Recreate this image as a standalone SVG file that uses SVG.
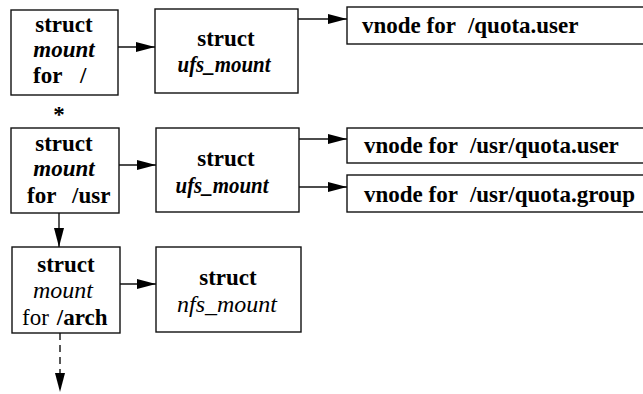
<svg xmlns="http://www.w3.org/2000/svg" width="643" height="394" viewBox="0 0 643 394" font-family="Liberation Serif, Times New Roman, serif">
<style>
rect{fill:#fff;stroke:#111;stroke-width:1.4}
text{font-family:"Liberation Serif",serif;font-size:23px;fill:#000}
.b{font-weight:bold}
.bi{font-weight:bold;font-style:italic}
.i{font-style:italic;font-size:24px}
.c{text-anchor:middle}
.ln{stroke:#111;stroke-width:1.4;fill:none}
</style>
<defs>
<marker id="ah" viewBox="0 0 19 10" refX="19" refY="5" markerWidth="19" markerHeight="10" markerUnits="userSpaceOnUse" orient="auto">
<path d="M0,0 L19,5 L0,10 Z" fill="#000"/>
</marker>
</defs>
<g id="mount-root">
<rect x="11" y="10" width="107" height="85"/>
<text class="b c" x="64" y="32">struct</text>
<text class="bi c" x="64" y="57">mount</text>
<text class="b" x="33" y="83">for</text>
<text class="b" x="80" y="83">/</text>
</g>
<g id="ufs-root">
<rect x="155" y="9" width="143" height="84"/>
<text class="b c" x="226" y="46">struct</text>
<text class="bi c" x="224" y="72" textLength="93" lengthAdjust="spacingAndGlyphs">ufs_mount</text>
</g>
<g id="vnode-quota-user">
<rect x="347" y="7" width="310" height="37"/>
<text class="b" x="362" y="33">vnode for<tspan dx="12">/quota.user</tspan></text>
</g>
<g id="asterisk">
<text class="b c" x="59" y="122">*</text>
</g>
<g id="mount-usr">
<rect x="11" y="128" width="108" height="85"/>
<text class="b c" x="64" y="151">struct</text>
<text class="bi c" x="64" y="176">mount</text>
<text class="b" x="27" y="203">for</text>
<text class="b" x="72" y="203">/usr</text>
</g>
<g id="ufs-usr">
<rect x="156" y="128" width="143" height="84"/>
<text class="b c" x="226" y="166">struct</text>
<text class="bi c" x="222" y="193" textLength="93" lengthAdjust="spacingAndGlyphs">ufs_mount</text>
</g>
<g id="vnode-usr-quota-user">
<rect x="347" y="128" width="310" height="35"/>
<text class="b" x="364" y="153">vnode for<tspan dx="12">/usr/quota.user</tspan></text>
</g>
<g id="vnode-usr-quota-group">
<rect x="347" y="175" width="310" height="37"/>
<text class="b" x="364" y="202">vnode for<tspan dx="12">/usr/quota.group</tspan></text>
</g>
<g id="mount-arch">
<rect x="12" y="247" width="108" height="86"/>
<text class="b c" x="66" y="272">struct</text>
<text class="i c" x="63" y="298">mount</text>
<text x="22" y="325">for<tspan class="b" dx="8">/arch</tspan></text>
</g>
<g id="nfs-arch">
<rect x="156" y="247" width="145" height="85"/>
<text class="b c" x="228" y="285">struct</text>
<text class="i c" x="227" y="312">nfs_mount</text>
</g>
<g id="connectors">
<line class="ln" x1="118" y1="47" x2="155" y2="47" marker-end="url(#ah)"/>
<line class="ln" x1="298" y1="19" x2="347" y2="19" marker-end="url(#ah)"/>
<line class="ln" x1="119" y1="165" x2="156" y2="165" marker-end="url(#ah)"/>
<line class="ln" x1="299" y1="139" x2="347" y2="139" marker-end="url(#ah)"/>
<line class="ln" x1="299" y1="187" x2="347" y2="187" marker-end="url(#ah)"/>
<line class="ln" x1="59" y1="213" x2="59" y2="247" marker-end="url(#ah)"/>
<line class="ln" x1="120" y1="284" x2="156" y2="284" marker-end="url(#ah)"/>
<line class="ln" x1="60" y1="333" x2="60" y2="392" stroke-dasharray="7,5" marker-end="url(#ah)"/>
</g>
</svg>
